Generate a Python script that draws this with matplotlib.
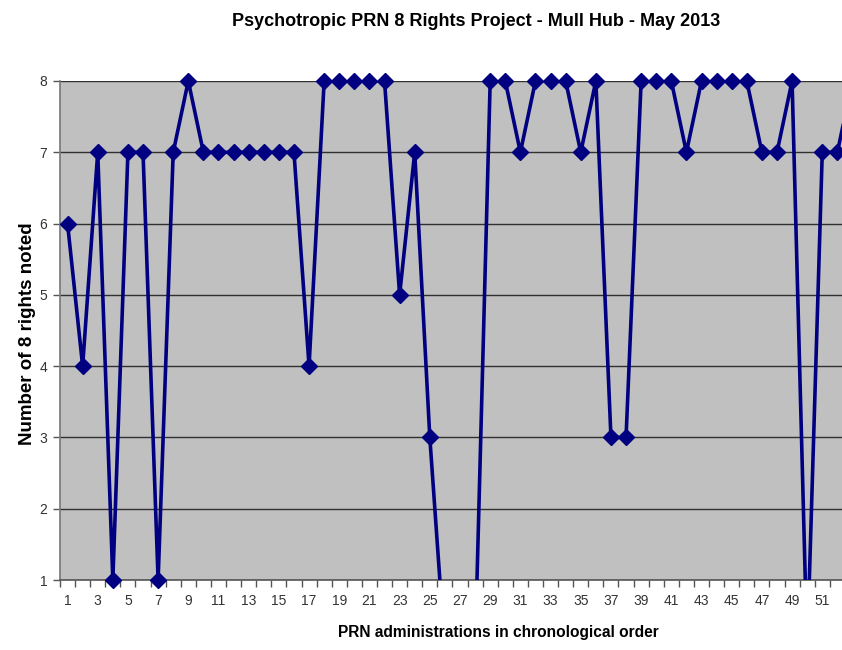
import numpy as np
import matplotlib.pyplot as plt
from matplotlib.ticker import FixedLocator

plt.rcParams['font.family'] = ['Liberation Sans', 'DejaVu Sans']

# PRN administrations (chart is cut off at the right after #52)
admin_no = list(range(1, 54))
rights_noted = [6, 4, 7, 1, 7, 7, 1, 7, 8, 7,
                7, 7, 7, 7, 7, 7, 4, 8, 8, 8,
                8, 8, 5, 7, 3, 0, 0, 0, 8, 8,
                7, 8, 8, 8, 7, 8, 3, 3, 8, 8,
                8, 7, 8, 8, 8, 8, 7, 7, 8, 0,
                7, 7, 8]
xtick_labels = list(range(1, 52, 2))

fig = plt.figure(figsize=(8.42, 6.5), dpi=100)
# axes runs past the right edge of the figure, like the cropped original
ax = fig.add_axes([60 / 842, 70 / 650, 800 / 842, 499 / 650])
ax.set_facecolor("#c0c0c0")

ax.plot(admin_no, rights_noted, color="#000080", linewidth=2.6, zorder=3)
# markers drawn unclipped so the ones on the top gridline stay whole
vals = np.array(rights_noted, dtype=float)
shown = np.where(vals >= 1, vals, np.nan)
ax.plot(admin_no, shown, linestyle="none", color="#000080",
        marker="D", markersize=8.5, zorder=4, clip_on=False)

ax.set_xlim(0.5, 53.5)
ax.set_ylim(1, 8)
ax.set_yticks(range(1, 9))
ax.set_xticks(xtick_labels)
ax.set_xticklabels([str(v) for v in xtick_labels])
ax.xaxis.set_minor_locator(FixedLocator([i + 0.5 for i in range(0, 54)]))
ax.tick_params(axis="x", which="major", length=0, pad=10, labelsize=10, colors="#333333")
ax.tick_params(axis="x", which="minor", length=5, width=1, color="#555555")
ax.tick_params(axis="y", length=5, width=1, color="#555555", labelsize=10,
               labelcolor="#333333", pad=4)

ax.grid(axis="y", color="#303030", linewidth=1)
ax.set_axisbelow(True)
for side in ["top", "right"]:
    ax.spines[side].set_visible(False)
ax.spines["left"].set_color("#777777")
ax.spines["bottom"].set_color("#555555")
ax.spines["left"].set_linewidth(1.2)
ax.spines["bottom"].set_linewidth(1.2)

fig.text(476 / 842, 1 - 22 / 650, "Psychotropic PRN 8 Rights Project - Mull Hub - May 2013",
         ha="center", va="center", fontsize=13, fontweight="bold")
fig.text(498 / 842, 1 - 632 / 650, "PRN administrations in chronological order",
         ha="center", va="center", fontsize=11.2, fontweight="bold")
fig.text(28 / 842, 1 - 334 / 650, "Number of 8 rights noted", rotation=90,
         ha="center", va="center", fontsize=13.5, fontweight="bold")

fig.savefig("out.png", dpi=100)
